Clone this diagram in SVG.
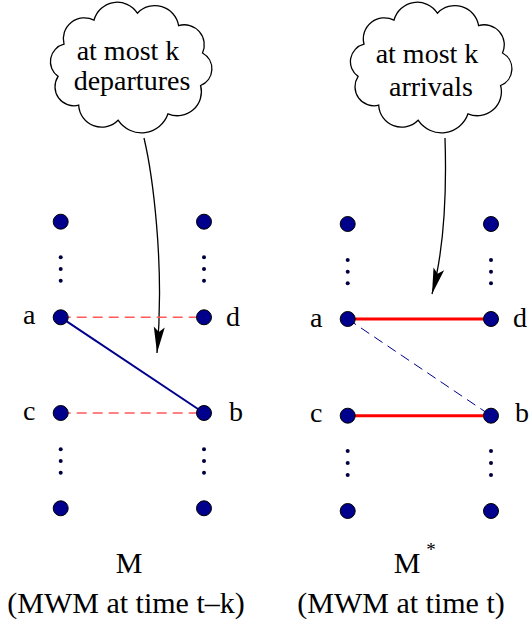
<svg xmlns="http://www.w3.org/2000/svg" width="530" height="623" viewBox="0 0 530 623">
<style>
.t{font-family:'Liberation Serif','Times New Roman',serif;font-size:28px;fill:#000}
.cap{font-size:30px}
.cloud{fill:#fff;stroke:#000;stroke-width:1.3}
.node{fill:#00008c;stroke:#000;stroke-width:1}
.dot{fill:#000040}
.arrow{fill:none;stroke:#000;stroke-width:1.3}
.rdash{stroke:#ff5a5a;stroke-width:1.6;stroke-dasharray:10 6;fill:none}
.rsolid{stroke:#f00;stroke-width:3;fill:none}
.bsolid{stroke:#00008c;stroke-width:2;fill:none}
.bdash{stroke:#00008c;stroke-width:1;stroke-dasharray:10 6;fill:none}
</style>
<defs>
<path id="cloudpath" d="M58.1,76.4 A18,18 0 0 1 64,44.2 A21,21 0 0 1 94,20.2 A24,24 0 0 1 137.4,13.2 A24,24 0 0 1 178.6,25.6 A20,20 0 0 1 202.5,53 A18,18 0 0 1 200.6,85.5 A24,24 0 0 1 168,113.8 A28,28 0 0 1 118.1,120.2 A23,23 0 0 1 78.7,105.2 A19,19 0 0 1 58.1,76.4 Z"/>
<marker id="ah" viewBox="-27 -6 28 12" refX="0" refY="0" markerWidth="28" markerHeight="12" markerUnits="userSpaceOnUse" orient="auto">
<path d="M0,0 L-26,-5.5 L-21,0 L-26,5.5 Z" fill="#000"/>
</marker>
</defs>

<g id="cloud-left">
<use href="#cloudpath" class="cloud"/>
<text class="t" x="128" y="60" text-anchor="middle">at most k</text>
<text class="t" x="132" y="90" text-anchor="middle">departures</text>
</g>
<g id="cloud-right">
<use href="#cloudpath" class="cloud" transform="translate(300,0)"/>
<text class="t" x="427" y="63" text-anchor="middle">at most k</text>
<text class="t" x="431" y="96" text-anchor="middle">arrivals</text>
</g>

<g id="connectors">
<path class="arrow" d="M144,138 C152,172 165,262 157,353" marker-end="url(#ah)"/>
<path class="arrow" d="M445,138 C447,200 444,250 432,294" marker-end="url(#ah)"/>
<line class="rdash" x1="60.7" y1="317.3" x2="204" y2="317.3"/>
<line class="rdash" x1="60.7" y1="413" x2="204" y2="413"/>
<line class="bsolid" x1="60.7" y1="317.3" x2="204" y2="413"/>
<line class="rsolid" x1="347.7" y1="319" x2="491" y2="319"/>
<line class="rsolid" x1="347.7" y1="415.7" x2="491" y2="415.7"/>
<line class="bdash" x1="347.7" y1="319" x2="491" y2="415.7"/>
</g>

<g id="left-graph">
<g id="L-top1"><circle class="node" cx="60.7" cy="221.7" r="7.5"/></g>
<g id="L-top2"><circle class="node" cx="204" cy="221.7" r="7.5"/></g>
<g id="L-dots-up"><circle class="dot" cx="60.7" cy="257.3" r="2"/><circle class="dot" cx="60.7" cy="269" r="2"/><circle class="dot" cx="60.7" cy="280.7" r="2"/><circle class="dot" cx="204" cy="257.3" r="2"/><circle class="dot" cx="204" cy="269" r="2"/><circle class="dot" cx="204" cy="280.7" r="2"/></g>
<g id="L-a"><circle class="node" cx="60.7" cy="317.3" r="7.5"/><text class="t" x="23" y="324">a</text></g>
<g id="L-d"><circle class="node" cx="204" cy="317.3" r="7.5"/><text class="t" x="226" y="326">d</text></g>
<g id="L-c"><circle class="node" cx="60.7" cy="413" r="7.5"/><text class="t" x="23" y="420">c</text></g>
<g id="L-b"><circle class="node" cx="204" cy="413" r="7.5"/><text class="t" x="229" y="421">b</text></g>
<g id="L-dots-down"><circle class="dot" cx="60.7" cy="449.3" r="2"/><circle class="dot" cx="60.7" cy="461" r="2"/><circle class="dot" cx="60.7" cy="472.7" r="2"/><circle class="dot" cx="204" cy="449.3" r="2"/><circle class="dot" cx="204" cy="461" r="2"/><circle class="dot" cx="204" cy="472.7" r="2"/></g>
<g id="L-bot1"><circle class="node" cx="60.7" cy="508.3" r="7.5"/></g>
<g id="L-bot2"><circle class="node" cx="204" cy="508.3" r="7.5"/></g>
<g id="L-caption"><text class="t cap" x="129" y="573" text-anchor="middle">M</text><text class="t cap" x="126" y="613" text-anchor="middle">(MWM at time t–k)</text></g>
</g>

<g id="right-graph">
<g id="R-top1"><circle class="node" cx="347.7" cy="224" r="7.5"/></g>
<g id="R-top2"><circle class="node" cx="491" cy="224" r="7.5"/></g>
<g id="R-dots-up"><circle class="dot" cx="347.7" cy="260" r="2"/><circle class="dot" cx="347.7" cy="271.7" r="2"/><circle class="dot" cx="347.7" cy="283.3" r="2"/><circle class="dot" cx="491" cy="260" r="2"/><circle class="dot" cx="491" cy="271.7" r="2"/><circle class="dot" cx="491" cy="283.3" r="2"/></g>
<g id="R-a"><circle class="node" cx="347.7" cy="319" r="7.5"/><text class="t" x="310" y="327">a</text></g>
<g id="R-d"><circle class="node" cx="491" cy="319" r="7.5"/><text class="t" x="513" y="327">d</text></g>
<g id="R-c"><circle class="node" cx="347.7" cy="415.7" r="7.5"/><text class="t" x="310" y="422">c</text></g>
<g id="R-b"><circle class="node" cx="491" cy="415.7" r="7.5"/><text class="t" x="515" y="422">b</text></g>
<g id="R-dots-down"><circle class="dot" cx="347.7" cy="451" r="2"/><circle class="dot" cx="347.7" cy="463" r="2"/><circle class="dot" cx="347.7" cy="475" r="2"/><circle class="dot" cx="491" cy="451" r="2"/><circle class="dot" cx="491" cy="463" r="2"/><circle class="dot" cx="491" cy="475" r="2"/></g>
<g id="R-bot1"><circle class="node" cx="347.7" cy="511" r="7.5"/></g>
<g id="R-bot2"><circle class="node" cx="491" cy="511" r="7.5"/></g>
<g id="R-caption"><text class="t cap" x="407" y="573" text-anchor="middle">M</text><text class="t" x="431" y="556" style="font-size:19px" text-anchor="middle">*</text><text class="t cap" x="401" y="613" text-anchor="middle">(MWM at time t)</text></g>
</g>
</svg>
